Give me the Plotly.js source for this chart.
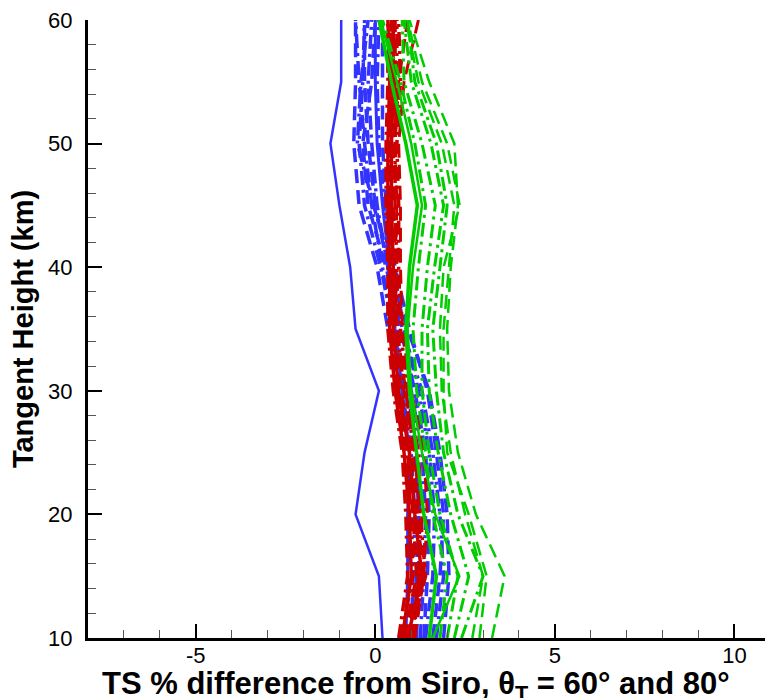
<!DOCTYPE html>
<html>
<head>
<meta charset="utf-8">
<script src="https://cdn.plot.ly/plotly-3.0.1.min.js"></script>
<style>html,body{margin:0;padding:0;background:#fff;}#chart{width:765px;height:698px;}</style>
</head>
<body>
<div id="chart"></div>
<script>
// Tangent heights (km)
const heights = [10, 15, 20, 25, 30, 35, 40, 45, 50, 55, 60];

// Blue series (% difference)
const blueSolid  = [0.2, 0.1, -0.55, -0.3, 0.1, -0.55, -0.7, -1.0, -1.25, -0.95, -0.95];
const blueSolid2 = [0.85, 0.9, 0.9, 0.95, 0.75, 0.55, 0.4, 0.2, 0.05, 0.0, 0.0];
const blueDD1    = [1.0, 1.05, 1.1, 1.0, 0.75, 0.45, 0.2, -0.1, -0.3, -0.45, -0.55];
const blueDD2    = [1.25, 1.35, 1.4, 1.3, 1.0, 0.6, 0.35, 0.05, -0.1, -0.2, -0.1];
const blueDD3    = [1.4, 1.6, 1.65, 1.5, 1.2, 0.8, 0.5, 0.25, 0.1, 0.05, 0.1];
const blueDD4    = [1.1, 1.15, 1.2, 1.15, 0.9, 0.5, 0.15, -0.3, -0.45, -0.35, -0.3];
const blueDD5    = [1.7, 1.9, 1.8, 1.6, 1.3, 0.75, 0.45, -0.05, -0.5, -0.4, -0.2];
const blueDash1  = [1.6, 1.8, 1.9, 1.7, 1.45, 0.95, 0.55, 0.3, 0.2, 0.2, 0.2];
const blueDash2  = [1.9, 2.05, 2.0, 1.8, 1.5, 0.9, 0.35, 0.0, -0.2, -0.3, -0.3];
const blueDash3  = [1.15, 1.2, 1.25, 1.1, 0.85, 0.35, 0.05, -0.45, -0.6, -0.55, -0.55];
const blueDash4  = [1.35, 1.45, 1.5, 1.4, 1.1, 0.7, 0.3, -0.2, -0.35, -0.1, 0.0];

// Red series
const redSolid  = [0.75, 1.0, 0.95, 0.8, 0.55, 0.4, 0.4, 0.35, 0.35, 0.4, 0.35];
const redSolid2 = [0.9, 1.3, 1.1, 0.95, 0.65, 0.5, 0.5, 0.45, 0.45, 0.5, 0.5];
const redDD1    = [0.65, 0.9, 0.85, 0.75, 0.5, 0.35, 0.35, 0.3, 0.3, 0.35, 0.35];
const redDD2    = [0.95, 1.4, 1.25, 1.1, 0.8, 0.6, 0.6, 0.55, 0.55, 0.6, 0.6];
const redDD3    = [1.05, 1.2, 1.3, 1.2, 0.9, 0.7, 0.65, 0.65, 0.6, 0.7, 0.65];
const redDD4    = [0.7, 1.05, 1.0, 0.85, 0.6, 0.45, 0.42, 0.4, 0.38, 0.42, 0.42];
const redDash1  = [0.8, 1.15, 1.05, 0.9, 0.6, 0.45, 0.45, 0.4, 0.4, 0.45, 0.45];
const redDash2  = [1.1, 1.35, 1.45, 1.35, 1.0, 0.75, 0.7, 0.7, 0.65, 0.8, 1.2];
const redDash3  = [0.85, 1.25, 1.15, 1.0, 0.7, 0.55, 0.55, 0.5, 0.5, 0.55, 0.55];
const redDash4  = [1.0, 1.3, 1.2, 1.05, 0.85, 0.6, 0.55, 0.6, 0.55, 0.65, 0.9];

// Green series
const greenSolid  = [1.5, 1.7, 1.35, 1.15, 0.95, 0.85, 0.95, 1.17, 0.85, 0.45, 0.1];
const greenSolid2 = [1.6, 2.34, 1.67, 1.3, 1.0, 0.9, 1.05, 1.3, 1.0, 0.6, 0.15];
const greenDD1    = [2.0, 2.3, 1.8, 1.5, 1.3, 1.3, 1.45, 1.67, 1.3, 0.8, 0.75];
const greenDD2    = [2.4, 3.0, 2.3, 1.9, 1.7, 1.6, 1.8, 2.0, 1.7, 1.1, 0.9];
const greenDD3    = [2.2, 2.6, 2.1, 1.75, 1.5, 1.45, 1.65, 1.9, 1.55, 1.0, 0.8];
const greenDash1  = [2.7, 3.0, 2.5, 2.1, 1.85, 1.8, 1.9, 2.35, 2.0, 1.3, 0.9];
const greenDash2  = [3.25, 3.6, 2.8, 2.3, 2.05, 2.0, 2.1, 2.3, 2.2, 1.5, 0.95];
const greenDash3  = [1.8, 2.0, 1.6, 1.4, 1.15, 1.05, 1.2, 1.4, 1.1, 0.7, 0.2];
const greenDash4  = [2.9, 3.1, 2.6, 2.0, 1.9, 1.9, 2.05, 2.2, 1.85, 1.2, 0.85];

// Tick labels
const xTickVals = [-5, 0, 5, 10];
const xTickText = ['-5', '0', '5', '10'];
const yTickVals = [10, 20, 30, 40, 50, 60];

const BLUE = 'rgb(51,51,255)', RED = 'rgb(204,0,0)', GREEN = 'rgb(0,204,0)';
const DD = '14px,5px,3px,5px';
const DASH = '14px,7px';

const series = [
  [blueSolid, BLUE, 'solid', 2.5],
  [blueSolid2, BLUE, 'solid', 3],
  [blueDD1, BLUE, DD, 3.5],
  [blueDD2, BLUE, DD, 3.5],
  [blueDD3, BLUE, DD, 3.5],
  [blueDD4, BLUE, DD, 3.5],
  [blueDD5, BLUE, DD, 3.5],
  [blueDash1, BLUE, DASH, 3.5],
  [blueDash2, BLUE, DASH, 3.5],
  [blueDash3, BLUE, DASH, 3.5],
  [blueDash4, BLUE, DASH, 3.5],
  [redSolid, RED, 'solid', 3.5],
  [redSolid2, RED, 'solid', 3.5],
  [redDD1, RED, DD, 3.5],
  [redDD2, RED, DD, 3.5],
  [redDD3, RED, DD, 3.5],
  [redDD4, RED, DD, 3.5],
  [redDash1, RED, DASH, 3.5],
  [redDash2, RED, DASH, 3],
  [redDash3, RED, DASH, 3.5],
  [redDash4, RED, DASH, 3],
  [greenSolid, GREEN, 'solid', 3.5],
  [greenSolid2, GREEN, 'solid', 2.5],
  [greenDD1, GREEN, DD, 3],
  [greenDD2, GREEN, DD, 3],
  [greenDD3, GREEN, DD, 3],
  [greenDash1, GREEN, DASH, 2.5],
  [greenDash2, GREEN, DASH, 2.5],
  [greenDash3, GREEN, DD, 3],
  [greenDash4, GREEN, DASH, 2.5]
];

const traces = series.map(s => ({
  x: s[0], y: heights, type: 'scatter', mode: 'lines',
  line: {color: s[1], dash: s[2], width: s[3]},
  hoverinfo: 'skip', showlegend: false
}));

const FAM = '"Liberation Sans", Arial, sans-serif';
const tickFont = {family: FAM, size: 22, color: '#000'};

const layout = {
  width: 765, height: 698,
  margin: {l: 88, r: 0, t: 20, b: 60},
  paper_bgcolor: '#fff', plot_bgcolor: '#fff',
  showlegend: false,
  xaxis: {
    range: [-8, 10.85], showgrid: false, zeroline: false,
    showline: true, linecolor: '#000', linewidth: 3, mirror: false,
    ticks: 'inside', ticklen: 14, tickwidth: 2, tickcolor: '#000',
    tickvals: xTickVals, ticktext: xTickText,
    minor: {ticks: 'inside', ticklen: 8, tickwidth: 1, tickcolor: '#555', dtick: 1, showgrid: false},
    tickfont: tickFont, automargin: false, ticklabelstandoff: -4
  },
  yaxis: {
    range: [10, 60], showgrid: false, zeroline: false,
    showline: true, linecolor: '#000', linewidth: 3, mirror: false,
    ticks: 'inside', ticklen: 14, tickwidth: 2, tickcolor: '#000',
    tickvals: yTickVals,
    minor: {ticks: 'inside', ticklen: 8, tickwidth: 1, tickcolor: '#555', dtick: 2, showgrid: false},
    tickfont: tickFont, ticklabelstandoff: 8,
    title: {text: '<b>Tangent Height (km)</b>', font: {family: FAM, size: 29, color: '#000'}, standoff: 6}
  },
  annotations: [{
    xref: 'paper', yref: 'paper', x: 0.485, y: -0.078, xanchor: 'center', yanchor: 'middle',
    showarrow: false,
    text: '<b>TS % difference from Siro, θ<sub>T</sub> = 60° and 80°</b>',
    font: {family: FAM, size: 31, color: '#000'}
  }]
};

Plotly.newPlot('chart', traces, layout, {displayModeBar: false, staticPlot: true});
</script>
</body>
</html>
